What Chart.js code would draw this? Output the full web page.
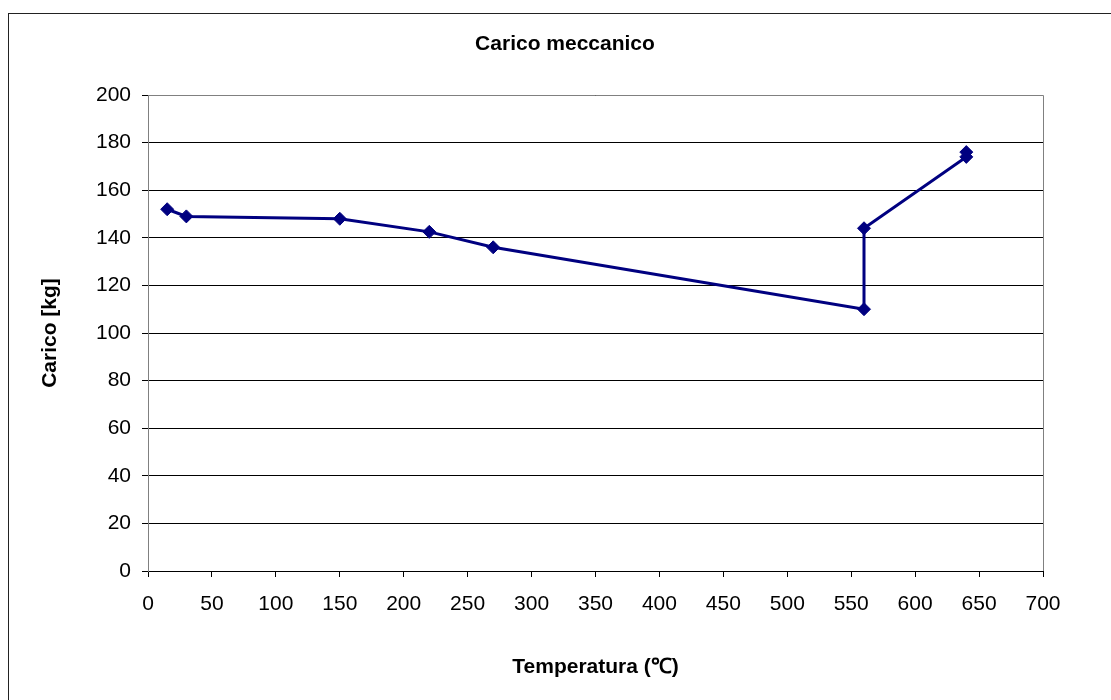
<!DOCTYPE html>
<html>
<head>
<meta charset="utf-8">
<title>Carico meccanico</title>
<script src="https://cdn.jsdelivr.net/npm/chart.js@4/dist/chart.umd.min.js"></script>
<style>
  body { margin: 0; background: #fff; overflow: hidden; }
  #frame { position: absolute; left: 8px; top: 13px; width: 1200px; height: 800px; border: 1px solid #222; }
  #my-chart { position: absolute; left: 0; top: 0; }
</style>
</head>
<body>
<div id="frame"></div>
<canvas id="my-chart" width="1111" height="700"></canvas>
<script>
'use strict';

// ***************** DATA ***************** //

let temperature = [15, 30, 150, 220, 270, 560, 560, 640, 640];
let load = [152, 149, 148, 142.5, 136, 110, 144, 174, 176];

let chartTitle = 'Carico meccanico';
let xTitle = 'Temperatura (\u2103)';
let yTitle = 'Carico [kg]';

// ***************** HELPERS ***************** //

let points = [];
for (let i = 0; i < temperature.length; i++) {
  points.push({ x: temperature[i], y: load[i] });
}

// grey frame around the plot area + title (centred on the outer frame, like excel does)
let plotBorder = {
  id: 'plotBorder',
  afterDraw(chart) {
    let c = chart.ctx;
    let a = chart.chartArea;
    c.save();
    c.strokeStyle = '#808080';
    c.lineWidth = 1;
    c.beginPath();
    c.moveTo(a.left, a.top + 0.5);
    c.lineTo(a.right + 0.5, a.top + 0.5);
    c.lineTo(a.right + 0.5, a.bottom);
    c.stroke();

    c.fillStyle = '#000';
    c.font = 'bold 21px "Liberation Sans", Arial';
    c.textAlign = 'center';
    c.textBaseline = 'alphabetic';
    c.fillText(chartTitle, 565, 50);
    c.restore();
  }
};

// ***************** CHART ***************** //

let ctx = document.getElementById('my-chart').getContext('2d');

new Chart(ctx, {
  type: 'scatter',
  data: {
    datasets: [{
      data: points,
      showLine: true,
      borderColor: '#000080',
      backgroundColor: '#000080',
      borderWidth: 3,
      pointStyle: 'rectRot',
      pointRadius: 6.5,
      pointBorderWidth: 1,
      tension: 0
    }]
  },
  options: {
    responsive: false,
    animation: false,
    layout: { padding: { left: 0, right: 68, top: 95, bottom: 20 } },
    plugins: {
      legend: { display: false },
      tooltip: { enabled: false },
      title: { display: false }
    },
    scales: {
      x: {
        type: 'linear',
        min: 0,
        max: 700,
        afterFit(scale) { scale.height = 109; },
        ticks: {
          stepSize: 50,
          color: '#000',
          padding: 15,
          maxRotation: 0,
          font: { family: 'Liberation Sans, Arial', size: 21 }
        },
        grid: { drawOnChartArea: false, drawTicks: true, tickLength: 6, color: '#000' },
        border: { color: '#000', width: 1 },
        title: {
          display: true,
          text: xTitle,
          color: '#000',
          font: { family: 'Liberation Sans, Arial', size: 21, weight: 'bold' },
          padding: { top: 0, bottom: 0 }
        }
      },
      y: {
        min: 0,
        max: 200,
        afterFit(scale) { scale.width = 148; },
        ticks: {
          stepSize: 20,
          color: '#000',
          padding: 11,
          font: { family: 'Liberation Sans, Arial', size: 21 }
        },
        grid: { color: '#000', lineWidth: 1, tickLength: 6, tickColor: '#000' },
        border: { color: '#808080', width: 1 },
        title: {
          display: true,
          text: yTitle,
          color: '#000',
          font: { family: 'Liberation Sans, Arial', size: 21, weight: 'bold' },
          padding: { top: 38, bottom: 0 }
        }
      }
    }
  },
  plugins: [plotBorder]
});
</script>
</body>
</html>
